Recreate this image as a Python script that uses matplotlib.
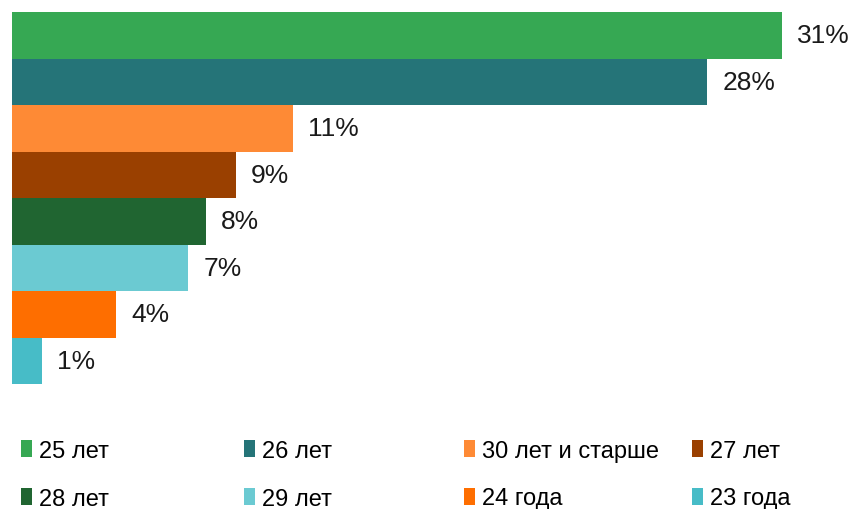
import matplotlib
matplotlib.use("Agg")
import matplotlib.pyplot as plt
from matplotlib.patches import Patch

plt.rcParams['font.family'] = ['Liberation Sans', 'DejaVu Sans']

categories = ['25 лет', '26 лет', '30 лет и старше', '27 лет',
              '28 лет', '29 лет', '24 года', '23 года']
values = [31.0, 28.0, 11.3, 9.0, 7.8, 7.1, 4.2, 1.2]
colors = ['#36a853', '#257478', '#fe8a35', '#9a4000',
          '#206531', '#6bcad2', '#fe6e00', '#47bcc7']

fig = plt.figure(figsize=(8.55, 5.1), dpi=100)
ax = fig.add_axes([12 / 855, 1 - 385 / 510, 770 / 855, 372 / 510])

ypos = list(range(len(values)))
ax.barh(ypos, values, height=1.0, color=colors)
ax.set_xlim(0, 31)
ax.set_ylim(len(values) - 0.5, -0.5)
ax.axis('off')

for y, v in zip(ypos, values):
    ax.annotate(f"{round(v)}%", (v, y), xytext=(11, 0), textcoords='offset points',
                va='center', ha='left', fontsize=19, color='#1a1a1a',
                annotation_clip=False)

# legend: excel style, 4 equal columns
col_x = [21 / 855, 244 / 855, 464 / 855, 692 / 855]
for i, x in enumerate(col_x):
    idx = [i, i + 4]
    handles = [Patch(facecolor=colors[j], edgecolor='none') for j in idx]
    fig.legend(handles, [categories[j] for j in idx], loc='upper left',
               bbox_to_anchor=(x, 1 - 441 / 510), frameon=False, fontsize=17,
               handlelength=0.45, handleheight=0.7, handletextpad=0.3,
               labelspacing=1.08, borderaxespad=0, borderpad=0)

fig.savefig("out.png", dpi=100)
